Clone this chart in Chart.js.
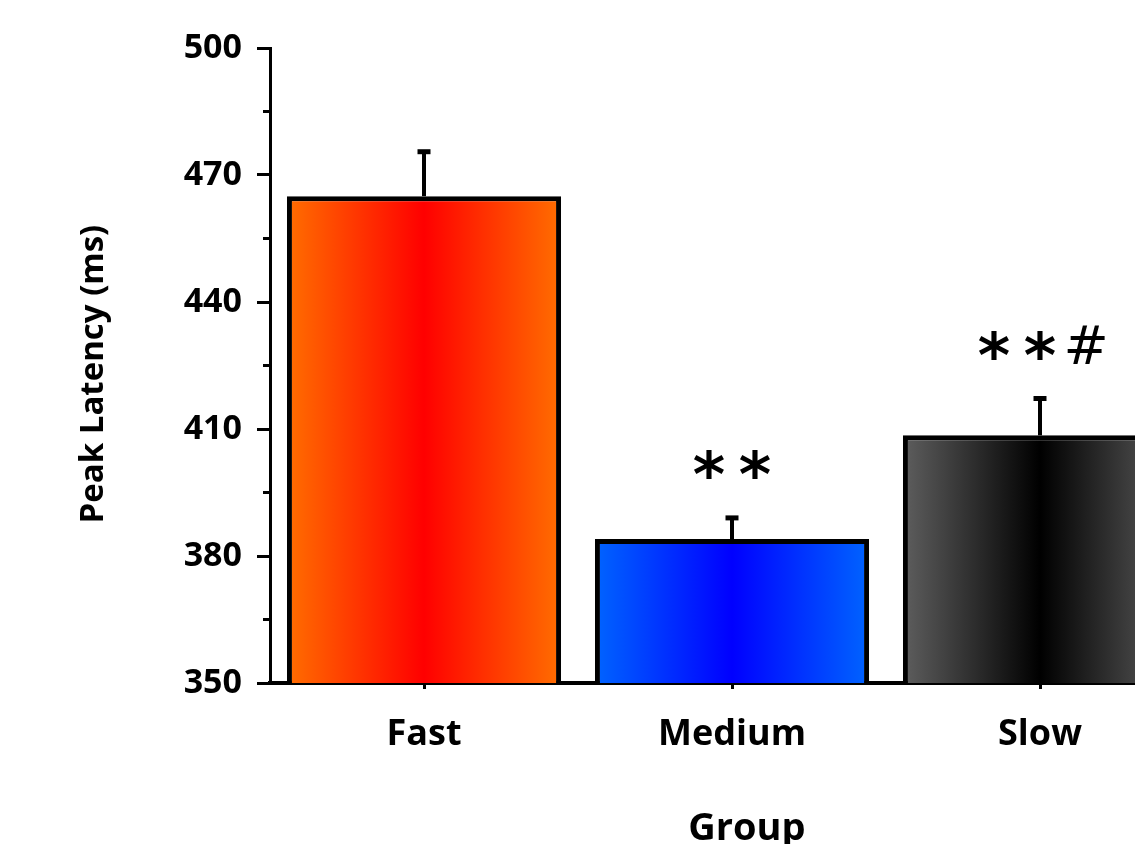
<!DOCTYPE html>
<html>
<head>
<meta charset="utf-8">
<script src="https://cdn.jsdelivr.net/npm/chart.js@4.4.1/dist/chart.umd.min.js"></script>
<style>
  html, body { margin: 0; padding: 0; background: #fff; overflow: hidden; }
  #wrap { position: absolute; left: 0; top: 0; width: 1210px; height: 860px; }
</style>
</head>
<body>
<div id="wrap"><canvas id="chart"></canvas></div>
<script>
// Peak latency per speed group (mean and standard error, ms)
const groups = ['Fast', 'Medium', 'Slow'];
const meanLatency = [465, 384, 408.5];
const semLatency = [10.5, 5, 8.7];
const significance = ['', '**', '**#'];

// Axis range and tick step
const yMin = 350;
const yMax = 500;
const yStep = 30;

// Bar fill: edge colour -> centre colour -> edge colour
const edgeColors = ['#FF6E00', '#0064FF', '#5E5E5E'];
const centreColors = ['#FF0000', '#0000FF', '#000000'];

const FONT = '"Open Sans", Lato, sans-serif';
const BAR_PCT = 0.89;

function barGradient(context) {
  const chart = context.chart;
  const xs = chart.scales.x;
  const i = context.dataIndex;
  if (!xs || i === undefined) return edgeColors[0];
  const cx = xs.getPixelForValue(i);
  const half = (xs.width / groups.length) * BAR_PCT / 2;
  if (!isFinite(cx) || !isFinite(half)) return edgeColors[i];
  const g = chart.ctx.createLinearGradient(cx - half, 0, cx + half, 0);
  g.addColorStop(0, edgeColors[i]);
  g.addColorStop(0.5, centreColors[i]);
  g.addColorStop(1, edgeColors[i]);
  return g;
}

// Upper error whiskers, minor y ticks and significance marks
const extras = {
  id: 'extras',
  afterDatasetsDraw(chart) {
    const ctx = chart.ctx;
    const ys = chart.scales.y;
    const meta = chart.getDatasetMeta(0);
    ctx.save();
    ctx.strokeStyle = '#000';
    ctx.fillStyle = '#000';
    meta.data.forEach((bar, i) => {
      const x = bar.x;
      const yBase = ys.getPixelForValue(meanLatency[i]);
      const yTop = ys.getPixelForValue(meanLatency[i] + semLatency[i]);
      ctx.lineWidth = 4;
      ctx.beginPath();
      ctx.moveTo(x, yBase);
      ctx.lineTo(x, yTop);
      ctx.stroke();
      ctx.lineWidth = 5;
      ctx.beginPath();
      ctx.moveTo(x - 6.5, yTop);
      ctx.lineTo(x + 6.5, yTop);
      ctx.stroke();

      const marks = significance[i];
      if (marks) {
        const gap = 46;
        const cy = yTop - 54;
        const start = x - gap * (marks.length - 1) / 2;
        for (let k = 0; k < marks.length; k++) {
          const ch = marks[k];
          ctx.font = ch === '#' ? '400 54px "DejaVu Sans"' : '700 62px "DejaVu Sans"';
          const m = ctx.measureText(ch);
          const asc = m.actualBoundingBoxAscent, desc = m.actualBoundingBoxDescent;
          ctx.textAlign = 'center';
          ctx.textBaseline = 'alphabetic';
          ctx.fillText(ch, start + gap * k, cy + (asc - desc) / 2);
        }
      }
    });

    // minor ticks halfway between labelled ticks
    const left = chart.chartArea.left;
    ctx.lineWidth = 3;
    for (let v = yMin + yStep / 2; v < yMax; v += yStep) {
      const y = ys.getPixelForValue(v);
      ctx.beginPath();
      ctx.moveTo(left - 7, y);
      ctx.lineTo(left, y);
      ctx.stroke();
    }
    ctx.restore();
  }
};

new Chart(document.getElementById('chart'), {
  type: 'bar',
  data: {
    labels: groups,
    datasets: [{
      data: meanLatency,
      backgroundColor: barGradient,
      borderColor: '#000',
      borderWidth: 5,
      borderSkipped: false,
      barPercentage: BAR_PCT,
      categoryPercentage: 1
    }]
  },
  options: {
    responsive: true,
    maintainAspectRatio: false,
    animation: false,
    events: [],
    layout: { padding: { left: 0, right: 16, top: 48, bottom: 0 } },
    plugins: { legend: { display: false }, tooltip: { enabled: false } },
    scales: {
      x: {
        offset: true,
        afterFit(scale) { scale.height = 177; },
        grid: {
          display: true,
          drawOnChartArea: false,
          drawTicks: true,
          offset: false,
          tickLength: 6,
          tickWidth: 3,
          tickColor: '#000'
        },
        border: { display: true, color: '#000', width: 4 },
        ticks: {
          color: '#000',
          padding: 24,
          font: { family: FONT, size: 36, weight: 'bold' }
        },
        title: {
          display: true,
          text: '   Group',
          color: '#000',
          padding: { top: 0, bottom: 8 },
          font: { family: FONT, size: 38, weight: 'bold' }
        }
      },
      y: {
        min: yMin,
        max: yMax,
        afterFit(scale) { scale.width = 270; },
        grid: {
          display: true,
          drawOnChartArea: false,
          drawTicks: true,
          tickLength: 13,
          tickWidth: 3,
          tickColor: '#000'
        },
        border: { display: true, color: '#000', width: 3 },
        ticks: {
          stepSize: yStep,
          color: '#000',
          padding: 15,
          font: { family: FONT, size: 34, weight: 'bold' }
        },
        title: {
          display: true,
          text: 'Peak Latency (ms)  ',
          color: '#000',
          padding: { top: 74, bottom: 0 },
          font: { family: FONT, size: 33, weight: 'bold' }
        }
      }
    }
  },
  plugins: [extras]
});
</script>
</body>
</html>
